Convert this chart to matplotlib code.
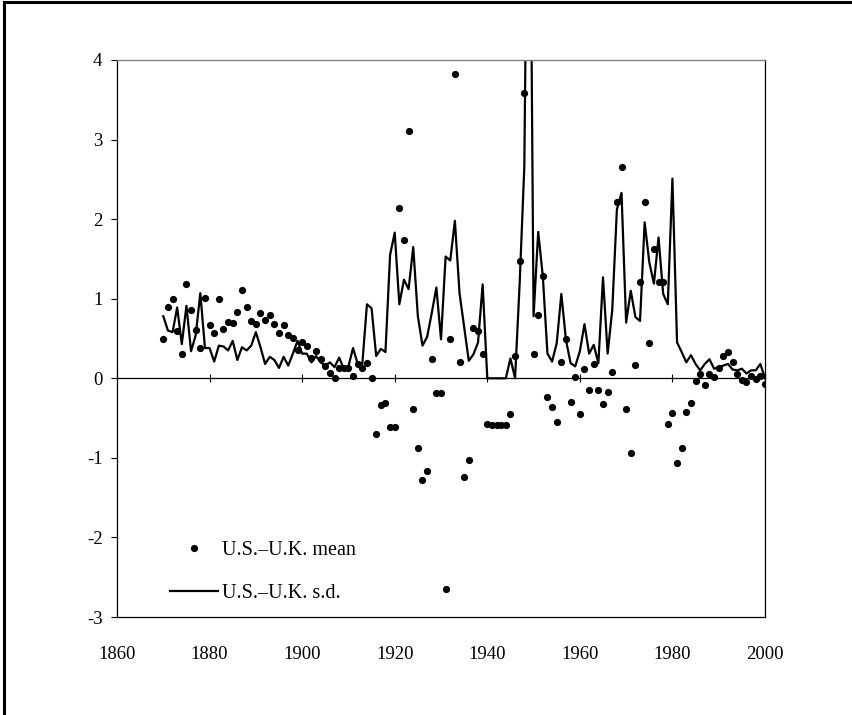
import numpy as np
import matplotlib
matplotlib.use("Agg")
import matplotlib.pyplot as plt
from matplotlib.lines import Line2D

plt.rcParams['font.family'] = ['Liberation Serif', 'DejaVu Serif']
plt.rcParams['axes.unicode_minus'] = False

years = np.arange(1870, 2001)

# U.S.-U.K. mean, one value per year 1870-2000 (1949 off the chart / not shown)
us_uk_mean = [
    0.49, 0.90, 1.00, 0.60, 0.30, 1.19, 0.86, 0.61, 0.38, 1.01,   # 1870s
    0.67, 0.57, 1.00, 0.62, 0.71, 0.70, 0.83, 1.11, 0.90, 0.72,   # 1880s
    0.68, 0.82, 0.73, 0.79, 0.68, 0.57, 0.67, 0.54, 0.51, 0.35,   # 1890s
    0.45, 0.41, 0.25, 0.34, 0.24, 0.16, 0.07, 0.00, 0.13, 0.13,   # 1900s
    0.13, 0.03, 0.18, 0.13, 0.19, 0.00, -0.70, -0.34, -0.31, -0.61,  # 1910s
    -0.61, 2.14, 1.74, 3.11, -0.38, -0.88, -1.28, -1.16, 0.24, -0.18,  # 1920s
    -0.18, -2.65, 0.50, 3.83, 0.21, -1.24, -1.03, 0.63, 0.59, 0.31,  # 1930s
    -0.57, -0.59, -0.59, -0.59, -0.59, -0.45, 0.28, 1.48, 3.58, np.nan,  # 1940s
    0.30, 0.80, 1.28, -0.23, -0.36, -0.55, 0.21, 0.49, -0.30, 0.02,  # 1950s
    -0.45, 0.12, -0.15, 0.18, -0.15, -0.32, -0.17, 0.08, 2.21, 2.65,  # 1960s
    -0.38, -0.94, 0.17, 1.21, 2.22, 0.44, 1.63, 1.21, 1.21, -0.57,  # 1970s
    -0.44, -1.06, -0.87, -0.42, -0.31, -0.03, 0.05, -0.09, 0.05, 0.01,  # 1980s
    0.13, 0.28, 0.33, 0.20, 0.05, -0.02, -0.05, 0.03, -0.01, 0.03,  # 1990s
    -0.07,
]

# U.S.-U.K. s.d.
us_uk_sd = [
    0.78, 0.60, 0.58, 0.89, 0.43, 0.91, 0.34, 0.54, 1.07, 0.38,
    0.38, 0.21, 0.41, 0.40, 0.35, 0.47, 0.23, 0.39, 0.35, 0.41,
    0.58, 0.39, 0.18, 0.27, 0.23, 0.13, 0.27, 0.16, 0.31, 0.47,
    0.31, 0.31, 0.20, 0.28, 0.20, 0.16, 0.20, 0.14, 0.26, 0.12,
    0.15, 0.38, 0.18, 0.18, 0.93, 0.88, 0.28, 0.37, 0.33, 1.55,
    1.83, 0.93, 1.24, 1.12, 1.65, 0.78, 0.41, 0.52, 0.82, 1.14,
    0.49, 1.53, 1.48, 1.98, 1.07, 0.65, 0.22, 0.30, 0.45, 1.18,
    0.00, 0.00, 0.00, 0.00, 0.00, 0.25, 0.00, 1.20, 2.66, 8.50,
    0.78, 1.84, 1.28, 0.31, 0.21, 0.44, 1.06, 0.48, 0.19, 0.15,
    0.34, 0.68, 0.31, 0.42, 0.19, 1.27, 0.31, 0.86, 2.12, 2.33,
    0.70, 1.10, 0.77, 0.72, 1.96, 1.46, 1.19, 1.77, 1.06, 0.93,
    2.51, 0.45, 0.33, 0.20, 0.29, 0.18, 0.10, 0.18, 0.24, 0.12,
    0.14, 0.16, 0.18, 0.11, 0.10, 0.12, 0.06, 0.10, 0.10, 0.18,
    0.00,
]

x_ticks = [1860, 1880, 1900, 1920, 1940, 1960, 1980, 2000]
y_ticks = [-3, -2, -1, 0, 1, 2, 3, 4]

fig = plt.figure(figsize=(8.52, 7.15), dpi=100)
ax = fig.add_axes([117/852, 1-617/715, 648/852, 557/715])

ax.plot(years, us_uk_sd, color='black', lw=1.6, label='U.S.\u2013U.K. s.d.', zorder=2)
ax.plot(years, us_uk_mean, 'o', color='black', ms=5.2, mec='none',
        label='U.S.\u2013U.K. mean', zorder=3)

ax.set_xlim(1860, 2000)
ax.set_ylim(-3, 4)
ax.set_xticks(x_ticks)
ax.set_yticks(y_ticks)
ax.tick_params(axis='x', length=0, pad=21, labelsize=13.5)
ax.tick_params(axis='y', direction='out', length=4.5, width=0.8, pad=6, labelsize=13.5)

for s in ['left', 'bottom', 'right']:
    ax.spines[s].set_color('black')
    ax.spines[s].set_linewidth(0.9)
ax.spines['top'].set_color('#808080')
ax.spines['top'].set_linewidth(1.0)

# zero axis with year ticks crossing it
zero = ax.secondary_xaxis(3/7)
zero.set_xticks(x_ticks)
zero.tick_params(direction='inout', length=6, width=0.8, labelbottom=False, labeltop=False)
zero.spines['bottom'].set_linewidth(0.9)
zero.spines['bottom'].set_color('black')

handles, labels = ax.get_legend_handles_labels()
ax.legend(handles[::-1], labels[::-1], loc='upper left', bbox_to_anchor=(0.082, 0.137),
          frameon=False, fontsize=14.5, handlelength=2.4, handletextpad=0.2,
          labelspacing=1.18, borderpad=0, borderaxespad=0, numpoints=1)

# outer frame (left and top edges)
fig.add_artist(Line2D([4/852, 4/852], [0, 1-2/715], transform=fig.transFigure, color='black', lw=2.2))
fig.add_artist(Line2D([4/852, 1], [1-2/715, 1-2/715], transform=fig.transFigure, color='black', lw=2.2))

fig.savefig('out.png', dpi=100)
